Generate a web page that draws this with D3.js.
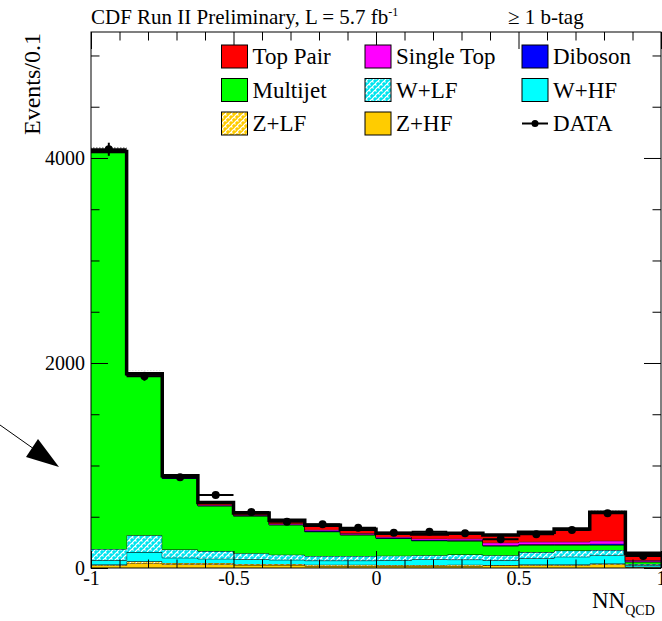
<!DOCTYPE html>
<html>
<head>
<meta charset="utf-8">
<script src="https://cdn.jsdelivr.net/npm/d3@7"></script>
<style>
  body { margin: 0; background: #fff; }
  svg { display: block; font-family: "Liberation Serif", "Times New Roman", serif; }
</style>
</head>
<body>
<svg id="chart" width="662" height="621"></svg>
<script>
// NN_QCD histogram, 16 bins of 0.125 between -1 and 1
var binEdges = [-1, -0.875, -0.75, -0.625, -0.5, -0.375, -0.25, -0.125, 0,
                0.125, 0.25, 0.375, 0.5, 0.625, 0.75, 0.875, 1];

// stacked backgrounds, bottom to top
var zHF       = [25, 45, 35, 35, 30, 30, 20, 20, 20, 20, 20, 25, 25, 25, 35, 8];
var zLF       = [10, 20, 15, 15, 10, 10, 12, 12, 10, 10, 12, 5, 10, 10, 10, 4];
var wHF       = [40, 90, 50, 40, 45, 40, 40, 40, 45, 55, 50, 45, 60, 75, 80, 15];
var wLF       = [110, 165, 80, 75, 60, 50, 45, 45, 45, 40, 50, 50, 60, 60, 50, 12];
var multijet  = [3868, 1555, 693, 440, 362, 290, 237, 205, 168, 141, 131, 90, 69, 54, 49, 20];
var diboson   = [2, 4, 4, 5, 4, 5, 6, 5, 5, 6, 7, 7, 7, 7, 12, 5];
var singleTop = [3, 8, 8, 8, 6, 10, 12, 12, 10, 14, 15, 25, 25, 25, 30, 12];
var topPair   = [5, 8, 15, 20, 20, 30, 45, 40, 35, 45, 55, 75, 92, 124, 277, 67];
var uncert    = [40, 30, 20, 20, 12, 15, 12, 12, 10, 15, 12, 12, 12, 15, 15, 8];
var dataCounts = [4085, 1870, 885, 712, 546, 452, 426, 393, 344, 354, 339, 280, 329, 371, 534, 117];

var xMajor = [-1, -0.5, 0, 0.5, 1];
var yMajor = [0, 2000, 4000];

var legendLabels = ["Top Pair", "Single Top", "Diboson", "Multijet", "W+LF", "W+HF", "Z+LF", "Z+HF", "DATA"];

var svg = d3.select("#chart");
var defs = svg.append("defs");

function addWeave(id, bg) {
    var p = defs.append("pattern").attr("id", id)
        .attr("patternUnits", "userSpaceOnUse")
        .attr("width", 6).attr("height", 6);
    p.append("rect").attr("width", 6).attr("height", 6).attr("fill", bg);
    p.append("path")
        .attr("d", "M0,3 L3,0 M3,6 L6,3 M3,0 L4.5,1.5 M0,3 L1.5,4.5")
        .attr("stroke", "#fff").attr("stroke-width", 1.1).attr("fill", "none");
}
addWeave("weaveCyan", "#00e4ee");
addWeave("weaveGold", "#ffcc00");

var dots = defs.append("pattern").attr("id", "dots")
    .attr("patternUnits", "userSpaceOnUse").attr("width", 3).attr("height", 3);
dots.append("rect").attr("width", 1.5).attr("height", 1.5).attr("fill", "#444");

var series = [
    { key: "Z+HF", values: zHF, fill: "#ffcc00" },
    { key: "Z+LF", values: zLF, fill: "url(#weaveGold)" },
    { key: "W+HF", values: wHF, fill: "#00ffff" },
    { key: "W+LF", values: wLF, fill: "url(#weaveCyan)" },
    { key: "Multijet", values: multijet, fill: "#00ff00" },
    { key: "Diboson", values: diboson, fill: "#0000ff" },
    { key: "Single Top", values: singleTop, fill: "#ff00ff" },
    { key: "Top Pair", values: topPair, fill: "#ff0000" }
];
var fillOf = {};
series.forEach(function(s) { fillOf[s.key] = s.fill; });

var x = d3.scaleLinear().domain([-1, 1]).range([91, 661]);
var y = d3.scaleLinear().domain([0, 5229]).range([568, 32]);

// build rows per bin for d3.stack
var rows = dataCounts.map(function(d, i) {
    var r = {};
    series.forEach(function(s) { r[s.key] = s.values[i]; });
    return r;
});
var stacked = d3.stack().keys(series.map(function(s) { return s.key; }))(rows);

function stepPoints(layer) {
    var pts = layer.map(function(d, i) { return { x: binEdges[i], y0: d[0], y1: d[1] }; });
    var last = pts[pts.length - 1];
    pts.push({ x: 1, y0: last.y0, y1: last.y1 });
    return pts;
}

var area = d3.area().curve(d3.curveStepAfter)
    .x(function(p) { return x(p.x); })
    .y0(function(p) { return y(p.y0); })
    .y1(function(p) { return y(p.y1); });
var outline = d3.line().curve(d3.curveStepAfter)
    .x(function(p) { return x(p.x); })
    .y(function(p) { return y(p.y1); });

var plot = svg.append("g");
stacked.forEach(function(layer) {
    var pts = stepPoints(layer);
    plot.append("path").attr("d", area(pts)).attr("fill", fillOf[layer.key]);
    plot.append("path").attr("d", outline(pts))
        .attr("fill", "none").attr("stroke", "#000").attr("stroke-width", 1);
});

// uncertainty band above the total, then the total line
var topLayer = stacked[stacked.length - 1];
var bandPts = stepPoints(topLayer.map(function(d, i) {
    return [d[1], d[1] + uncert[i]];
}));
plot.append("path").attr("d", area(bandPts)).attr("fill", "url(#dots)");
plot.append("path").attr("d", outline(stepPoints(topLayer)))
    .attr("fill", "none").attr("stroke", "#000").attr("stroke-width", 3.5);

// axes with inward ticks
function styleAxis(g) {
    g.select(".domain").remove();
    g.attr("font-family", null).attr("font-size", 20);
    g.selectAll("text").attr("fill", "#000");
    g.selectAll("line").attr("stroke", "#000");
}
var xMinor = d3.range(-10, 11).map(function(v) { return v / 10; })
    .filter(function(v) { return Math.abs(v * 2 - Math.round(v * 2)) > 1e-9; });
var yMinor = d3.range(500, 5229, 500).filter(function(v) { return v % 2000 !== 0; });

svg.append("g").attr("transform", "translate(0,568)")
    .call(d3.axisBottom(x).tickValues(xMajor).tickSize(-17).tickPadding(3)
        .tickFormat(function(d) { return String(d); }))
    .call(styleAxis);
svg.append("g").attr("transform", "translate(0,568)")
    .call(d3.axisBottom(x).tickValues(xMinor).tickSize(-8.5).tickFormat(""))
    .call(styleAxis);
svg.append("g").attr("transform", "translate(0,32)")
    .call(d3.axisTop(x).tickValues(xMajor).tickSize(-17).tickFormat(""))
    .call(styleAxis);
svg.append("g").attr("transform", "translate(0,32)")
    .call(d3.axisTop(x).tickValues(xMinor).tickSize(-8.5).tickFormat(""))
    .call(styleAxis);
svg.append("g").attr("transform", "translate(91,0)")
    .call(d3.axisLeft(y).tickValues(yMajor).tickSize(-17).tickPadding(6)
        .tickFormat(d3.format("d")))
    .call(styleAxis);
svg.append("g").attr("transform", "translate(91,0)")
    .call(d3.axisLeft(y).tickValues(yMinor).tickSize(-8.5).tickFormat(""))
    .call(styleAxis);
svg.append("g").attr("transform", "translate(661,0)")
    .call(d3.axisRight(y).tickValues(yMajor).tickSize(-17).tickFormat(""))
    .call(styleAxis);
svg.append("g").attr("transform", "translate(661,0)")
    .call(d3.axisRight(y).tickValues(yMinor).tickSize(-8.5).tickFormat(""))
    .call(styleAxis);

svg.append("rect").attr("x", 91).attr("y", 32).attr("width", 570).attr("height", 536)
    .attr("fill", "none").attr("stroke", "#000").attr("stroke-width", 1);

// data points with stat errors
var dataG = svg.append("g");
dataCounts.forEach(function(n, i) {
    var cx = x((binEdges[i] + binEdges[i + 1]) / 2);
    var err = Math.sqrt(n);
    dataG.append("line").attr("x1", x(binEdges[i])).attr("x2", x(binEdges[i + 1]))
        .attr("y1", y(n)).attr("y2", y(n)).attr("stroke", "#000").attr("stroke-width", 2);
    dataG.append("line").attr("x1", cx).attr("x2", cx)
        .attr("y1", y(n - err)).attr("y2", y(n + err)).attr("stroke", "#000").attr("stroke-width", 2);
    dataG.append("circle").attr("cx", cx).attr("cy", y(n)).attr("r", 4).attr("fill", "#000");
});

// legend
var colX = [221.5, 365, 522];
var rowY = [45, 78.5, 112];
var legend = svg.append("g").attr("font-size", 23);
legendLabels.forEach(function(lab, i) {
    var lx = colX[i % 3], ly = rowY[Math.floor(i / 3)];
    if (lab === "DATA") {
        legend.append("line").attr("x1", lx).attr("x2", lx + 26)
            .attr("y1", ly + 11.5).attr("y2", ly + 11.5).attr("stroke", "#000").attr("stroke-width", 2);
        legend.append("circle").attr("cx", lx + 13).attr("cy", ly + 11.5).attr("r", 3.5).attr("fill", "#000");
    } else {
        legend.append("rect").attr("x", lx).attr("y", ly).attr("width", 26).attr("height", 23)
            .attr("fill", fillOf[lab]).attr("stroke", "#000").attr("stroke-width", 1);
    }
    legend.append("text").attr("x", lx + 31).attr("y", ly + 19).text(lab);
});

// titles
var title = svg.append("text").attr("x", 91).attr("y", 24).attr("font-size", 21)
    .text("CDF Run II Preliminary, L = 5.7 fb");
title.append("tspan").attr("font-size", 12).attr("dy", -8).text("-1");
svg.append("text").attr("x", 508).attr("y", 24).attr("font-size", 21).text("\u2265 1 b-tag");

svg.append("text").attr("transform", "translate(40,33) rotate(-90)")
    .attr("text-anchor", "end").attr("font-size", 24).text("Events/0.1");

var xt = svg.append("text").attr("x", 592).attr("y", 608).attr("font-size", 23).text("NN");
xt.append("tspan").attr("font-size", 14).attr("dy", 7).text("QCD");

// arrow annotation on the left
svg.append("line").attr("x1", 0).attr("y1", 425).attr("x2", 34).attr("y2", 449)
    .attr("stroke", "#000").attr("stroke-width", 1);
svg.append("path").attr("d", "M59,467 L26,457 L38,439 Z").attr("fill", "#000");
</script>
</body>
</html>
